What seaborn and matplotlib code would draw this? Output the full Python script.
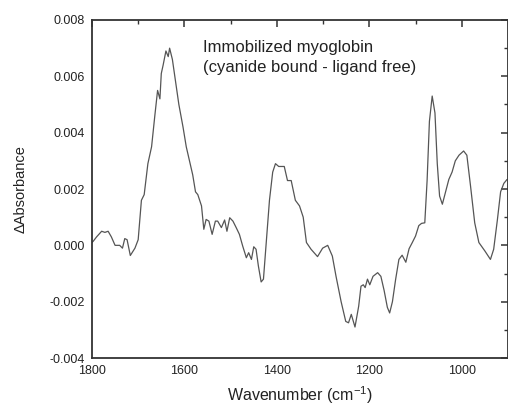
import numpy as np
import pandas as pd
import matplotlib
matplotlib.use("Agg")
import matplotlib.pyplot as plt
import seaborn as sns
from matplotlib.ticker import MultipleLocator

# espectro de diferencia
wavenumber = [1800, 1797, 1790, 1779, 1772, 1765, 1758, 1750, 1740, 1734, 1729, 1724,
              1717, 1707, 1700, 1693, 1687, 1679, 1671, 1664, 1658, 1653, 1650, 1646,
              1640, 1635, 1632, 1626, 1619, 1612, 1603, 1596, 1589, 1582, 1576, 1571,
              1563, 1558, 1553, 1547, 1540, 1533, 1528, 1520, 1513, 1508, 1502, 1495,
              1488, 1481, 1474, 1466, 1461, 1455, 1450, 1445, 1440, 1434, 1429, 1423,
              1416, 1409, 1403, 1396, 1384, 1377, 1369, 1360, 1351, 1343, 1336, 1326,
              1312, 1301, 1290, 1280, 1272, 1261, 1251, 1245, 1239, 1231, 1223, 1218,
              1213, 1209, 1204, 1199, 1192, 1182, 1175, 1168, 1161, 1156, 1150, 1143,
              1136, 1129, 1121, 1114, 1107, 1100, 1093, 1087, 1080, 1075, 1070, 1064,
              1058, 1053, 1048, 1042, 1035, 1028, 1021, 1014, 1006, 996, 989, 981,
              972, 963, 950, 938, 931, 923, 916, 909, 902]
delta_abs = [0.0001, 0.00015, 0.0003, 0.0005, 0.00046, 0.0005, 0.0003, 0.0, 0.0, -0.0001,
             0.00024, 0.0002, -0.00036, -0.0001, 0.0002, 0.0016, 0.0018, 0.0029, 0.0035,
             0.0046, 0.0055, 0.0052, 0.0061, 0.0064, 0.0069, 0.0067, 0.0070, 0.0066,
             0.0058, 0.0050, 0.0042, 0.0035, 0.0030, 0.0025, 0.0019, 0.0018, 0.0014,
             0.00057, 0.00092, 0.00086, 0.00039, 0.00086, 0.00086, 0.00063, 0.0009,
             0.0005, 0.00098, 0.00086, 0.00063, 0.00039, -0.00002, -0.00044, -0.00026,
             -0.0005, -0.00005, -0.00014, -0.00073, -0.0013, -0.0012, 0.0001, 0.0016,
             0.0026, 0.0029, 0.0028, 0.0028, 0.0023, 0.0023, 0.0016, 0.0014, 0.001,
             0.0001, -0.00014, -0.0004, -0.0001, 0.0, -0.00038, -0.0011, -0.002, -0.0027,
             -0.00275, -0.00245, -0.0029, -0.00216, -0.00145, -0.0014, -0.0015, -0.0012,
             -0.0014, -0.0011, -0.00097, -0.0011, -0.0016, -0.0022, -0.0024, -0.002,
             -0.0012, -0.0005, -0.00035, -0.0006, -0.00012, 0.0001, 0.00033, 0.0007,
             0.00078, 0.0008, 0.0023, 0.0044, 0.0053, 0.0047, 0.0029, 0.00175, 0.00146,
             0.0019, 0.00234, 0.0026, 0.003, 0.0032, 0.00335, 0.0032, 0.0021, 0.0008,
             0.0001, -0.0002, -0.0005, -0.00014, 0.0009, 0.0019, 0.0022, 0.00234]

df = pd.DataFrame({"wn": wavenumber, "dabs": delta_abs})

sns.set_style("white")
plt.rcParams["font.family"] = ["Liberation Sans", "DejaVu Sans"]
plt.rcParams["mathtext.fontset"] = "custom"
plt.rcParams["mathtext.rm"] = "Liberation Sans"
plt.rcParams["mathtext.it"] = "Liberation Sans"

fig = plt.figure(figsize=(5.08, 4.08), dpi=100)
ax = fig.add_axes([0.181, 0.1225, 0.819, 0.8285])

sns.lineplot(data=df, x="wn", y="dabs", ax=ax, color="#555555", linewidth=0.9,
             sort=False, estimator=None)

ax.set_xlim(1800, 900)
ax.set_ylim(-0.004, 0.008)
ax.xaxis.set_major_locator(MultipleLocator(200))
ax.xaxis.set_minor_locator(MultipleLocator(100))
ax.yaxis.set_major_locator(MultipleLocator(0.002))
ax.yaxis.set_minor_locator(MultipleLocator(0.001))
ax.yaxis.set_major_formatter(plt.FuncFormatter(lambda v, p: f"{v:.3f}"))

ax.tick_params(which="both", direction="in", top=True, right=True,
               color="#333333", labelcolor="#222222", labelsize=9, pad=5)
ax.tick_params(which="major", length=5, width=1.1)
ax.tick_params(which="minor", length=3, width=1.0)
for s in ax.spines.values():
    s.set_color("#333333")
    s.set_linewidth(1.3)

ax.set_xlabel("Wavenumber (cm$^{-1}$)", fontsize=11.5, color="#222222", labelpad=5)
ax.set_ylabel("\u0394Absorbance", fontsize=10.5, color="#222222", labelpad=16)

ax.text(0.268, 0.94, "Immobilized myoglobin\n(cyanide bound - ligand free)",
        transform=ax.transAxes, fontsize=12, color="#222222", va="top",
        linespacing=1.4)

fig.savefig("out.png", dpi=100)
